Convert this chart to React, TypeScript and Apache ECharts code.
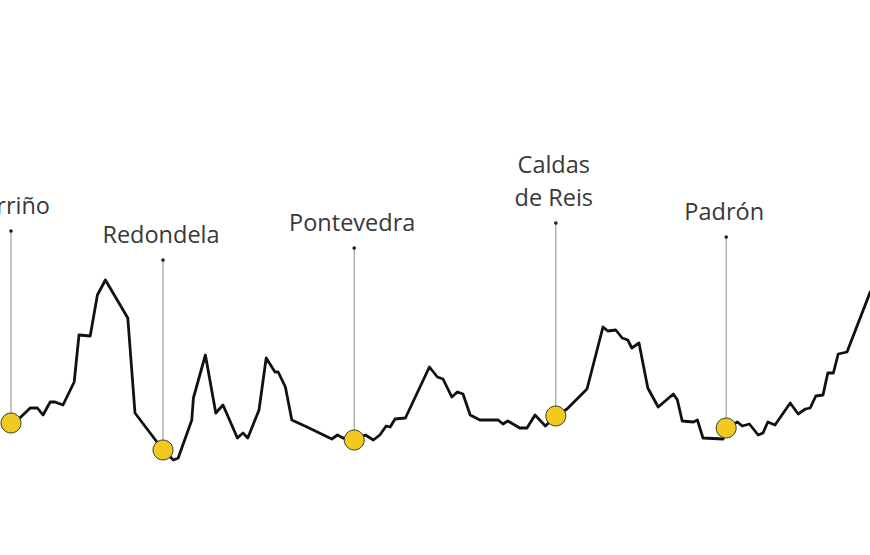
import React, { useEffect, useRef } from "react";
import * as echarts from "echarts";

// Elevation profile (distance in km, elevation in m)
const distanceKm = [
  0, 1.1, 2.4, 3.3, 4.0, 4.9, 5.5, 6.5, 7.9, 8.5, 9.9, 10.8, 11.8, 14.6, 15.5,
  19.0, 20.3, 20.9, 22.6, 22.8, 24.3, 25.6, 26.5, 28.3, 29.0, 29.6, 31.0, 31.9,
  33.0, 33.4, 34.3, 35.1, 37.0, 40.1, 40.8, 41.5, 42.9, 44.3, 45.3, 46.1, 46.9,
  47.4, 48.0, 49.3, 52.3, 53.3, 54.0, 55.1, 55.8, 56.5, 57.4, 58.6, 60.9, 61.5,
  62.1, 63.6, 64.5, 65.5, 66.8, 68.1, 69.5, 72.0, 74.0, 74.6, 75.6, 76.4, 77.1,
  77.6, 78.5, 79.6, 80.9, 82.8, 83.3, 83.9, 85.3, 85.8, 86.5, 89.0, 89.4, 90.8,
  91.4, 92.3, 93.4, 94.0, 94.6, 95.5, 97.4, 98.4, 99.3, 99.9, 100.6, 101.5,
  102.1, 102.8, 103.4, 104.5, 107.4,
];
const elevationM = [
  74, 84, 104, 104, 90, 116, 116, 110, 156, 250, 248, 330, 360, 284, 94,
  20, 0, 4, 80, 124, 210, 94, 110, 44, 54, 44, 100, 204,
  176, 176, 146, 80, 66, 42, 50, 44, 40, 50, 40, 50, 68,
  66, 82, 84, 186, 166, 162, 126, 136, 132, 90, 80, 80, 72,
  78, 64, 64, 90, 68, 88, 102, 142, 266, 258, 260, 244, 240,
  224, 234, 144, 106, 132, 120, 78, 76, 80, 44, 42, 64, 76,
  68, 72, 50, 54, 76, 70, 114, 92, 102, 104, 128, 130,
  174, 174, 212, 216, 336,
];

// Towns along the route
const towns = ["Porriño", "Redondela", "Pontevedra", "Caldas\nde Reis", "Padrón"];
const townKm = [0, 19.0, 42.9, 68.1, 89.4];
const townElev = [74, 20, 40, 88, 64];

// Layout: height (in elevation units) reached by each label stem
const stemTop = [458, 400, 424, 474, 446];

export default function App() {
  const ref = useRef<HTMLDivElement>(null);

  useEffect(() => {
    if (!ref.current) return;
    const chart = echarts.init(ref.current, null, { renderer: "svg" });
    const profile = distanceKm.map((d, i) => [d, elevationM[i]]);
    const townPts = townKm.map((d, i) => [d, townElev[i]]);
    const stems = townKm.map((d, i) => [d, townElev[i], stemTop[i]]);

    chart.setOption({
      animation: false,
      backgroundColor: "#ffffff",
      grid: { left: 0, right: 0, top: 0, bottom: 0 },
      xAxis: { type: "value", min: -1.375, max: 107.375, show: false },
      yAxis: { type: "value", min: -190, max: 920, show: false },
      series: [
        {
          type: "custom",
          z: 1,
          data: stems,
          renderItem: (params: any, api: any) => {
            const base = api.coord([api.value(0), api.value(1)]);
            const top = api.coord([api.value(0), api.value(2)]);
            const name = towns[params.dataIndex];
            return {
              type: "group",
              children: [
                {
                  type: "line",
                  shape: { x1: base[0], y1: base[1], x2: top[0], y2: top[1] },
                  style: { stroke: "#8c8c8c", lineWidth: 1 },
                },
                {
                  type: "circle",
                  shape: { cx: top[0], cy: top[1], r: 1.8 },
                  style: { fill: "#222" },
                },
                {
                  type: "text",
                  x: top[0] - 2,
                  y: top[1] - 9.5,
                  style: {
                    text: name,
                    fill: "#383838",
                    fontSize: 23.5,
                    fontFamily: "'Open Sans', sans-serif",
                    align: "center",
                    verticalAlign: "bottom",
                    lineHeight: 33,
                  },
                },
              ],
            };
          },
        },
        {
          type: "line",
          z: 2,
          data: profile,
          showSymbol: false,
          symbol: "none",
          lineStyle: { color: "#111111", width: 2.8, join: "round", cap: "round" },
        },
        {
          type: "scatter",
          z: 3,
          data: townPts,
          symbolSize: 20,
          itemStyle: { color: "#F2C91F", borderColor: "#3a3a3a", borderWidth: 1, opacity: 1 },
        },
      ],
    });
    return () => chart.dispose();
  }, []);

  return (
    <div
      ref={ref}
      style={{ position: "absolute", left: 0, top: 0, width: 870, height: 555 }}
    />
  );
}
